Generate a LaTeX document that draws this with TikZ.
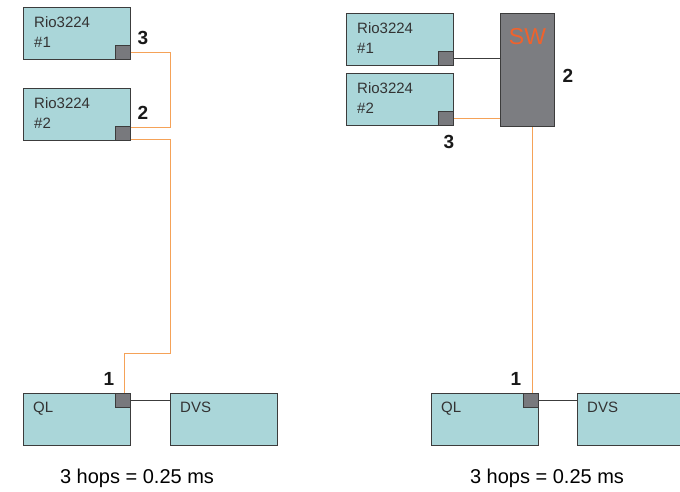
\documentclass[tikz,border=0pt]{standalone}
\usepackage{fontspec}
\setmainfont{Liberation Sans}
\usepackage{tikz}
\usetikzlibrary{calc,positioning}
\definecolor{devCol}{HTML}{AAD6D9}
\definecolor{edgeCol}{HTML}{3C3C3C}
\definecolor{portCol}{HTML}{78797D}
\definecolor{swCol}{HTML}{7C7D81}
\definecolor{fibCol}{HTML}{F5A258}
\definecolor{swTxt}{HTML}{F0622C}
\tikzset{
  dev/.style={draw=edgeCol, fill=devCol, line width=0.9pt, minimum width=107pt,
              minimum height=52pt, inner sep=0pt, anchor=north west},
  devtxt/.style={anchor=north west, inner sep=0pt, font=\fontsize{15}{20}\selectfont,
                 text=black!80, align=left},
  port/.style={draw=edgeCol, fill=portCol, line width=0.9pt, minimum width=15pt,
               minimum height=14pt, inner sep=0pt, anchor=south east},
  swbox/.style={draw=edgeCol, fill=swCol, line width=0.9pt, minimum width=54pt,
                minimum height=113pt, inner sep=0pt, anchor=north west},
  hop/.style={font=\fontsize{19}{19}\selectfont\bfseries, text=black!90, inner sep=0pt},
  fib/.style={fibCol, line width=0.9pt},       % fibre / network link
  cu/.style={edgeCol, line width=0.9pt},       % local link
  total/.style={font=\fontsize{20}{20}\selectfont, inner sep=0pt},
}
\begin{document}
\begin{tikzpicture}[x=1pt,y=-1pt]
  \useasboundingbox (0,0) rectangle (680,491);

  % daisy chain
  \node[dev] (rioA) at (23,7) {};
  \node[devtxt] at ([xshift=11pt,yshift=-9pt]rioA.north west) {Rio3224\\\#1};
  \node[port] (pA) at (rioA.south east) {};
  \node[dev] (rioB) at (23,88) {};
  \node[devtxt] at ([xshift=11pt,yshift=-9pt]rioB.north west) {Rio3224\\\#2};
  \node[port] (pB) at (rioB.south east) {};
  \node[dev] (ql) at (23,393) {};
  \node[devtxt] at ([xshift=10pt,yshift=-9pt]ql.north west) {QL};
  \node[port, anchor=north east] (pQ) at (ql.north east) {};
  \node[dev] (dvs) at (170,393) {};
  \node[devtxt] at ([xshift=10pt,yshift=-9pt]dvs.north west) {DVS};

  \draw[fib] (pA.east) -- ++(40,0) |- ([yshift=-1pt]pB.north east);
  \draw[fib] ([yshift=1pt]pB.south east) -- ++(40,0) -- ++(0,214) -| ([xshift=1pt]pQ.north);
  \draw[cu] (pQ.east) -- (dvs.west|-pQ.east);

  \node[hop] at (143,38) {3};
  \node[hop] at (143,113) {2};
  \node[hop] at (109,379) {1};
  \node[total] at (137,478) {3 hops = 0.25 ms};

  % star via switch
  \node[dev] (rioC) at (346,13) {};
  \node[devtxt] at ([xshift=11pt,yshift=-9pt]rioC.north west) {Rio3224\\\#1};
  \node[port] (pC) at (rioC.south east) {};
  \node[dev] (rioD) at (346,73) {};
  \node[devtxt] at ([xshift=11pt,yshift=-9pt]rioD.north west) {Rio3224\\\#2};
  \node[port] (pD) at (rioD.south east) {};
  \node[swbox] (sw) at (500,13) {};
  \node[font=\fontsize{23}{23}\selectfont, text=swTxt, inner sep=0pt] at ([yshift=-24pt]sw.north) {SW};
  \node[dev] (ql2) at (431,393) {};
  \node[devtxt] at ([xshift=10pt,yshift=-9pt]ql2.north west) {QL};
  \node[port, anchor=north east] (pQ2) at (ql2.north east) {};
  \node[dev] (dvs2) at (577,393) {};
  \node[devtxt] at ([xshift=10pt,yshift=-9pt]dvs2.north west) {DVS};

  \draw[cu] (pC.east) -- (sw.west|-pC.east);
  \draw[fib] (pD.east) -- (sw.west|-pD.east);
  \draw[fib] ([xshift=1pt]pQ2.north) -- ([xshift=1pt]pQ2.north|-sw.south);
  \draw[cu] (pQ2.east) -- (dvs2.west|-pQ2.east);

  \node[hop] at (568,76) {2};
  \node[hop] at (449,142) {3};
  \node[hop] at (516,379) {1};
  \node[total] at (547,478) {3 hops = 0.25 ms};
\end{tikzpicture}
\end{document}
